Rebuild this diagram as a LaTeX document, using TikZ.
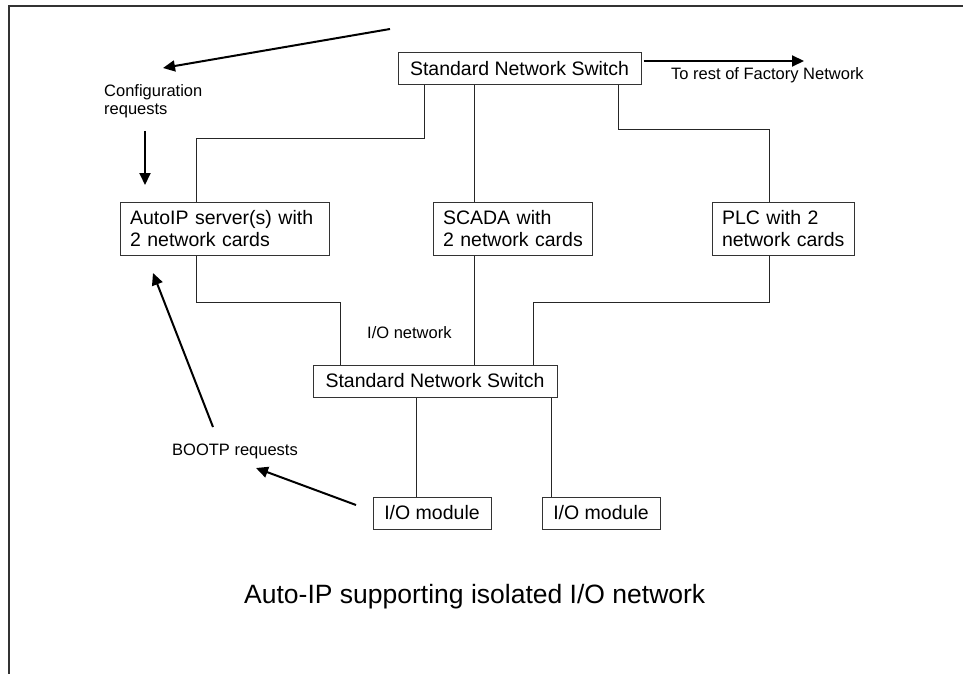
\documentclass[tikz,border=0pt]{standalone}
\usepackage{fontspec}
\setmainfont{Liberation Sans}
\usetikzlibrary{arrows.meta}
\begin{document}
\begin{tikzpicture}[x=1pt,y=-1pt,
  conn/.style={line width=1pt, draw=black!85},
  arr/.style={line width=2pt, -{Triangle[length=12pt,width=11pt]}},
  box/.style={draw=black!80, line width=1pt, inner xsep=10pt, inner ysep=0pt, font=\fontsize{19.5}{21.5}\selectfont},
  twoline/.style={box, minimum height=53pt, align=left},
  small/.style={font=\fontsize{16.5}{17.5}\selectfont, inner sep=0pt},
]
\useasboundingbox (0,0) rectangle (963,674);
\draw[line width=1.2pt, black!80] (963,6) -- (9,6) -- (9,674);

\node[box, minimum width=243pt, minimum height=32pt] (sw1) at (519.5,69) {Standard Network Switch};
\node[box, minimum width=244pt, minimum height=32pt] (sw2) at (435,381) {Standard Network Switch};
\node[twoline, text width=189pt] (auto) at (224.5,228.5) {\mbox{AutoIP server(s) with}\\\mbox{2 network cards}};
\node[twoline, text width=139pt] (scada) at (512.5,228.5) {\mbox{SCADA with}\\\mbox{2 network cards}};
\node[twoline, text width=122pt] (plc) at (783,228.5) {\mbox{PLC with 2}\\\mbox{network cards}};
\node[box, minimum width=118pt, minimum height=32pt] (io1) at (432,513) {I/O module};
\node[box, minimum width=118pt, minimum height=32pt] (io2) at (601,513) {I/O module};

\coordinate (j1) at (424,138);
\coordinate (j2) at (196,138);
\coordinate (j3) at (474.5,0);
\coordinate (j4) at (618,130);
\coordinate (j5) at (769,130);
\coordinate (k1) at (196,302);
\coordinate (k2) at (340,302);
\coordinate (k3) at (769,302);
\coordinate (k4) at (533,302);
\coordinate (k5) at (416,0);
\coordinate (k6) at (551,0);

\draw[conn] (sw1.south -| j1) -- (j1) -- (j2) -- (auto.north -| j2);
\draw[conn] (sw1.south -| j3) -- (scada.north -| j3);
\draw[conn] (sw1.south -| j4) -- (j4) -- (j5) -- (plc.north -| j5);
\draw[conn] (auto.south -| k1) -- (k1) -- (k2) -- (sw2.north -| k2);
\draw[conn] (scada.south -| j3) -- (sw2.north -| j3);
\draw[conn] (plc.south -| k3) -- (k3) -- (k4) -- (sw2.north -| k4);
\draw[conn] (sw2.south -| k5) -- (io1.north -| k5);
\draw[conn] (sw2.south -| k6) -- (io2.north -| k6);

\coordinate (t1) at (390,29);
\coordinate (t2) at (163,68);
\coordinate (d1) at (145,131);
\coordinate (d2) at (145,185);
\coordinate (r1) at (804,61);
\coordinate (b1) at (213,427);
\coordinate (b2) at (153,273);
\coordinate (m1) at (356,505);
\coordinate (m2) at (256,468);

\draw[arr] (t1) -- (t2);
\draw[arr] (d1) -- (d2);
\draw[arr] (sw1.east |- r1) ++(2,0) -- (r1);
\draw[arr] (b1) -- (b2);
\draw[arr] (m1) -- (m2);

\node[small, anchor=base west, align=left] (cfg) at (104,114.5) {Configuration\\requests};
\node[small, anchor=base west] (torest) at (671,79.5) {To rest of Factory Network};
\node[small, anchor=base west] (ionet) at (367,338.5) {I/O network};
\node[small, anchor=base west] (bootp) at (172,455) {BOOTP requests};
\node[anchor=base west, inner sep=0pt, font=\fontsize{26.5}{30}\selectfont] (cap) at (244,603) {Auto-IP supporting isolated I/O network};
\end{tikzpicture}
\end{document}
